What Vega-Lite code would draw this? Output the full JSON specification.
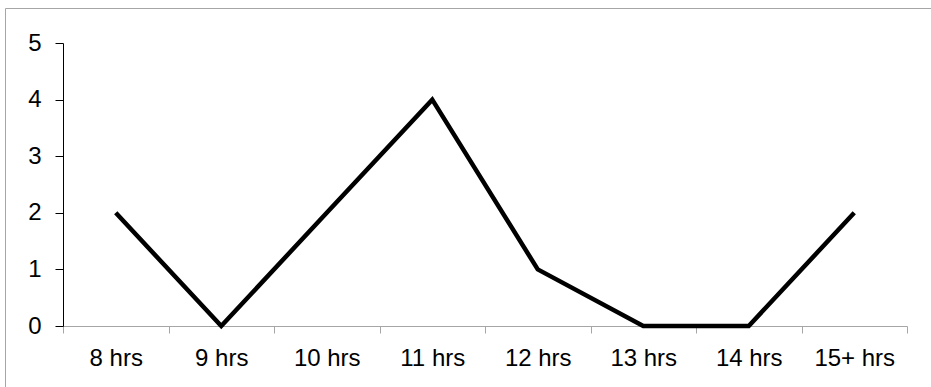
{
  "$schema": "https://vega.github.io/schema/vega-lite/v6.json",
  "autosize": {"type": "none"},
  "padding": {"left": 5, "top": 8, "right": 0, "bottom": 0},
  "width": 930,
  "height": 383,
  "background": "white",
  "config": {
    "view": {"stroke": "#a6a6a6", "strokeWidth": 1},
    "font": "Liberation Sans"
  },
  "data": {
    "values": [
      {"sleep": "8 hrs", "count": 2},
      {"sleep": "9 hrs", "count": 0},
      {"sleep": "10 hrs", "count": 2},
      {"sleep": "11 hrs", "count": 4},
      {"sleep": "12 hrs", "count": 1},
      {"sleep": "13 hrs", "count": 0},
      {"sleep": "14 hrs", "count": 0},
      {"sleep": "15+ hrs", "count": 2}
    ]
  },
  "mark": {"type": "line", "color": "black", "strokeWidth": 4.5, "strokeJoin": "miter"},
  "encoding": {
    "x": {
      "field": "sleep",
      "type": "ordinal",
      "sort": null,
      "scale": {"type": "band", "paddingInner": 0, "paddingOuter": 0, "range": [58, 902]},
      "axis": {
        "title": null,
        "offset": -65,
        "labelAngle": 0,
        "labelFontSize": 24,
        "labelColor": "black",
        "labelPadding": 13,
        "domainColor": "#a6a6a6",
        "tickColor": "#a6a6a6",
        "tickSize": 7,
        "tickBand": "extent",
        "grid": false
      }
    },
    "y": {
      "field": "count",
      "type": "quantitative",
      "scale": {"domain": [0, 5], "range": [318, 35], "nice": false, "zero": false},
      "axis": {
        "title": null,
        "offset": -58,
        "values": [0, 1, 2, 3, 4, 5],
        "labelFontSize": 24,
        "labelColor": "black",
        "labelPadding": 14,
        "domainColor": "black",
        "tickColor": "black",
        "tickSize": 8,
        "grid": false
      }
    }
  }
}
